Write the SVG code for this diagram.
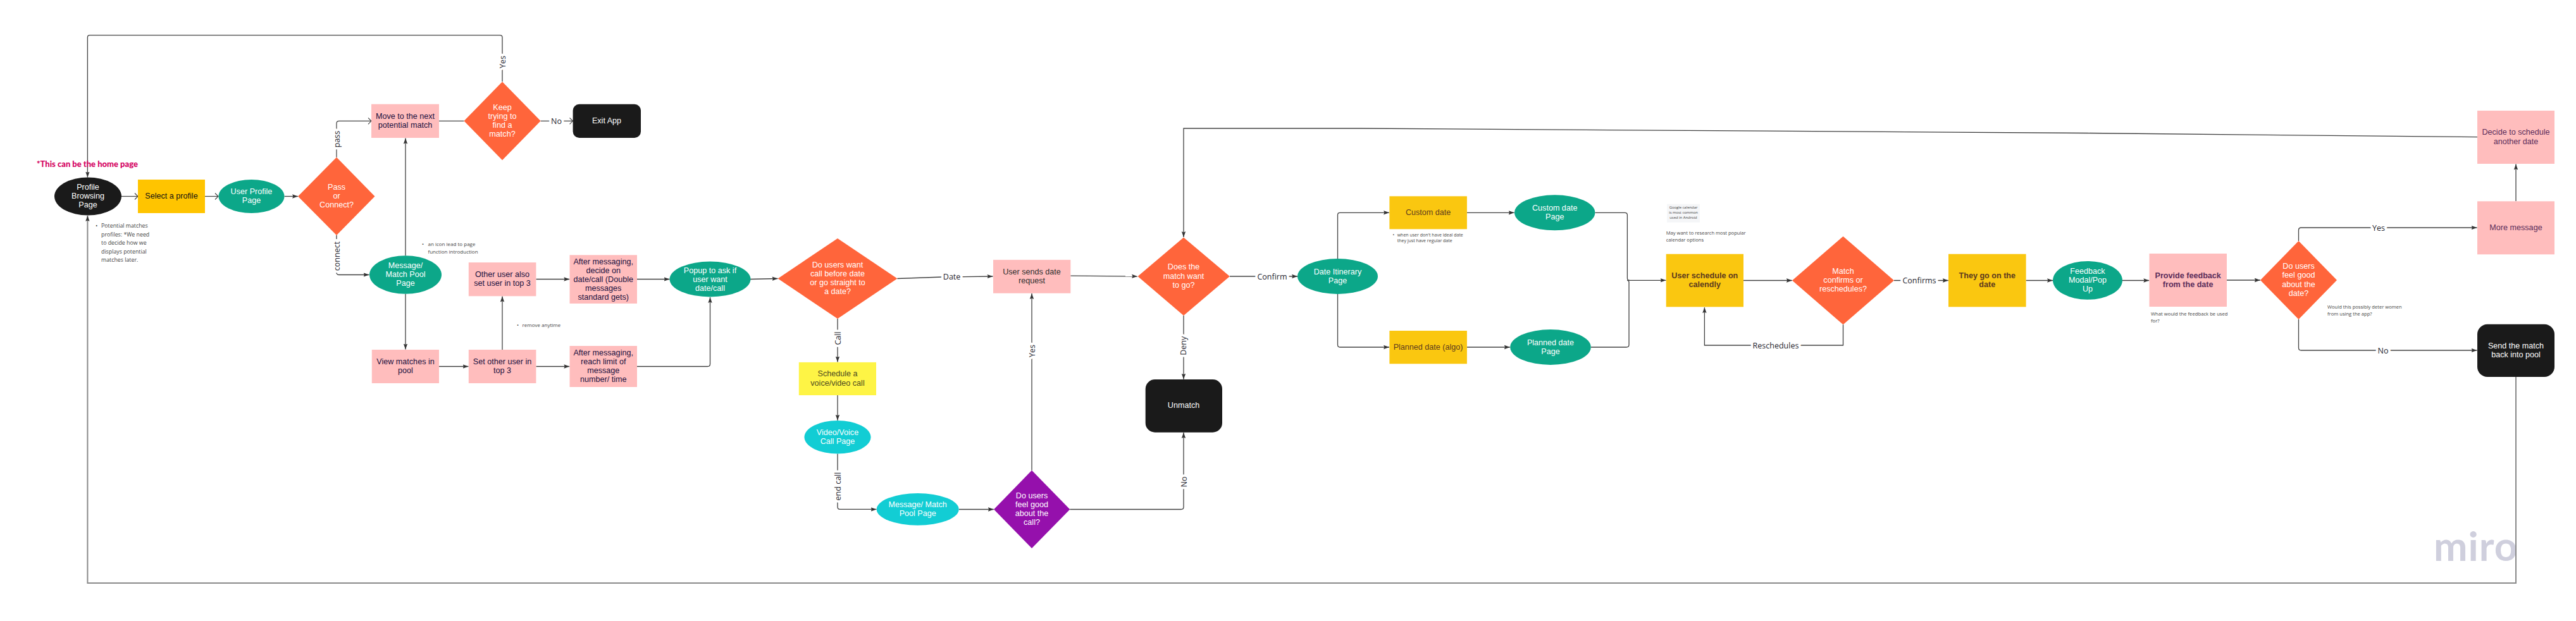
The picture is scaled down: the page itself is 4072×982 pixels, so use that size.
<svg xmlns="http://www.w3.org/2000/svg" width="4072" height="982" viewBox="0 0 4072 982">
<style>
.g{fill:#0CA789}.o{fill:#FF653B}.p{fill:#FFBDBD}.k{fill:#1A1A1A}.y{fill:#FAC710}.c{fill:#12CDD4}
text{font-family:"Liberation Sans",Arial,sans-serif;font-size:12.6px;text-anchor:middle}
.w{fill:#fff}.n{fill:#1a1040}.b{fill:#5c3a1e}.m{fill:#5b2d5b}
.note{font-family:"Open Sans",sans-serif;font-size:8px;fill:#444;text-anchor:start}
.lab{font-family:"Open Sans",sans-serif;font-size:12.5px;fill:#1f1f2f;stroke:#fff;stroke-width:8px;paint-order:stroke}
.l{fill:none;stroke:#414141;stroke-width:1.3;marker-end:url(#a)}
.l2{fill:none;stroke:#414141;stroke-width:1.3}
.op{fill:none;stroke:#414141;stroke-width:1.2;marker-end:url(#v)}
.thick{fill:none;stroke:#8a8a8a;stroke-width:2;marker-end:url(#a)}
</style>
<defs>
<marker id="a" markerUnits="userSpaceOnUse" markerWidth="10" markerHeight="8" refX="9" refY="4" orient="auto"><path d="M0 0.8L9 4L0 7.2L1.5 4Z" fill="#333"/></marker>
<marker id="v" markerUnits="userSpaceOnUse" markerWidth="7" markerHeight="12" refX="6" refY="6" orient="auto"><path d="M1 1L6 6L1 11" fill="none" stroke="#414141" stroke-width="1.1"/></marker>
<filter id="sh" x="-10%" y="-300%" width="120%" height="700%"><feGaussianBlur stdDeviation="1"/></filter>
</defs>
<rect width="4072" height="982" fill="#fff"/>
<text id="watermark" x="3847" y="887" style="font-family:Lato,sans-serif;font-size:64px;font-weight:700;fill:#CFCFDD;text-anchor:start;letter-spacing:1px">miro</text>
<g id="connectors">
<path class="l" d="M794 129V59Q794 55.7 790 55.7H142Q138.4 55.7 138.4 59V280.5"/>
<path class="thick" d="M3977 596V922H138.4V341"/>
<path class="op" d="M192 310.5H218"/>
<path class="op" d="M324 310.5H345"/>
<path class="l" d="M449.6 310.5H471"/>
<path class="op" d="M532 248.7V195Q532 191.3 536 191.3H587"/>
<path class="l2" d="M694 191.3H733.4"/>
<path class="op" d="M854.6 191.3H905.5"/>
<path class="l" d="M532 372V431Q532 434.5 536 434.5H583.5"/>
<path class="l" d="M641 404.3V218.5"/>
<path class="l" d="M641 464.7V552.5"/>
<path class="l" d="M694 579.5H740.5"/>
<path class="l" d="M794 553V468.5"/>
<path class="l" d="M847.4 441.5H900.3"/>
<path class="l" d="M1007 441.5H1058.5"/>
<path class="l" d="M847.4 579.5H900.3"/>
<path class="l" d="M1007 579.5H1118.5Q1122.5 579.5 1122.5 575.5V470"/>
<path class="l" d="M1186 441.5L1229.5 440.5"/>
<path class="l" d="M1418.4 440.5L1490 438L1569.5 437"/>
<path class="l" d="M1692.3 436.2L1798 437"/>
<path class="l" d="M1943.9 437H2051"/>
<path class="l" d="M1324 504V572.5"/>
<path class="l" d="M1324 625V664.8"/>
<path class="l" d="M1324 717.6V801.5Q1324 805.4 1328 805.4H1385.5"/>
<path class="l" d="M1515.8 805.5H1570.8"/>
<path class="l" d="M1631 743.8V464"/>
<path class="l" d="M1691.3 805.5H1867Q1871 805.5 1871 801.5V684"/>
<path class="l" d="M1871 499V599.8"/>
<path class="l" d="M3916 216.7L3300 210.5L2150 203H1871V375"/>
<path class="l" d="M2114.5 409V340Q2114.5 336.3 2118 336.3H2196"/>
<path class="l" d="M2114.5 465V545Q2114.5 549 2118 549H2196"/>
<path class="l" d="M2318.9 336.3H2393.7"/>
<path class="l" d="M2318.9 549H2386.8"/>
<path class="l2" d="M2521.4 336.3H2568.5Q2572.4 336.3 2572.4 340V440Q2572.4 443.3 2576 443.3"/>
<path class="l2" d="M2514.8 549H2571Q2575 549 2575 545V446Q2575 443.3 2572 443.3"/>
<path class="l" d="M2575 443.3H2633.5"/>
<path class="l" d="M2756 443.5H2832.8"/>
<path class="l" d="M2994 443.5H3079.8"/>
<path class="l" d="M2913.5 513.3V546H2694.4V486"/>
<path class="l" d="M3202.6 443.5H3245"/>
<path class="l" d="M3355 443.5H3397.3"/>
<path class="l" d="M3520 443H3572.8"/>
<path class="l" d="M3633.5 381V364Q3633.5 360 3637.5 360H3915.5"/>
<path class="l" d="M3633.5 505V550Q3633.5 554 3637.5 554H3915.5"/>
<path class="l" d="M3977 318V259.5"/>
<text class="lab" transform="rotate(-90 794 98)" x="794" y="102.5">Yes</text>
<text class="lab" x="879.5" y="195.5">No</text>
<text class="lab" transform="rotate(-90 532 220)" x="532" y="224.5">pass</text>
<text class="lab" transform="rotate(-90 532 405)" x="532" y="409.5">connect</text>
<text class="lab" x="1504.6" y="442">Date</text>
<text class="lab" transform="rotate(-90 1324 535)" x="1324" y="539.5">Call</text>
<text class="lab" transform="rotate(-90 1324 769)" x="1324" y="773.5">end call</text>
<text class="lab" transform="rotate(-90 1631 555)" x="1631" y="559.5">Yes</text>
<text class="lab" transform="rotate(-90 1871 546.7)" x="1871" y="551.2">Deny</text>
<text class="lab" transform="rotate(-90 1871 762)" x="1871" y="766.5">No</text>
<text class="lab" x="2011" y="441.5">Confirm</text>
<text class="lab" x="3034" y="447.5">Confirms</text>
<text class="lab" x="2807" y="550.5">Reschedules</text>
<text class="lab" x="3760" y="364.5">Yes</text>
<text class="lab" x="3767" y="558.5">No</text>
</g>
<g id="home-note"><text x="138" y="263.5" style="font-family:Lato,sans-serif;font-weight:900;font-size:13px;fill:#D4005F">*This can be the home page</text></g>
<g id="profile-browsing"><ellipse class="k" cx="139" cy="310.5" rx="53" ry="30"/><text class="w" y="300.4"><tspan x="139">Profile</tspan><tspan x="139" dy="14">Browsing</tspan><tspan x="139" dy="14">Page</tspan></text></g>
<g id="select-profile"><rect x="218" y="284" width="106" height="53" fill="#FFC400"/><text x="271" y="314.4" fill="#111">Select a profile</text></g>
<g id="user-profile"><ellipse class="g" cx="397.5" cy="310.5" rx="52" ry="26.5"/><text class="w" y="306.9"><tspan x="397.5">User Profile</tspan><tspan x="397.5" dy="14">Page</tspan></text></g>
<g id="pass-connect"><path class="o" d="M532 248.7L592.5 310.4L532 372L471 310.4Z"/><text class="w" y="300.4"><tspan x="532">Pass</tspan><tspan x="532" dy="14">or</tspan><tspan x="532" dy="14">Connect?</tspan></text></g>
<g id="move-next"><rect class="p" x="587" y="164.7" width="107" height="53.3"/><text class="n" y="188"><tspan x="640.5">Move to the next</tspan><tspan x="640.5" dy="14">potential match</tspan></text></g>
<g id="keep-trying"><path class="o" d="M794 129.3L854.6 191.3L794 253.3L733.4 191.3Z"/><text class="w" y="174.4"><tspan x="794">Keep</tspan><tspan x="794" dy="14">trying to</tspan><tspan x="794" dy="14">find a</tspan><tspan x="794" dy="14">match?</tspan></text></g>
<g id="exit-app"><rect class="k" x="905.6" y="164.7" width="107.4" height="53.3" rx="10"/><text class="w" x="959" y="195">Exit App</text></g>
<g id="potential-note"><text class="note" style="font-size:8.8px" y="360"><tspan x="151">•</tspan><tspan x="160">Potential matches</tspan><tspan x="160" y="374">profiles: *We need</tspan><tspan x="160" y="387">to decide how we</tspan><tspan x="160" y="401">displays potential</tspan><tspan x="160" y="414">matches later.</tspan></text></g>
<g id="message-pool"><ellipse class="g" cx="641" cy="434.5" rx="57" ry="30.2"/><text class="w" y="424"><tspan x="641">Message/</tspan><tspan x="641" dy="14">Match Pool</tspan><tspan x="641" dy="14">Page</tspan></text></g>
<g id="icon-note"><text class="note" y="389"><tspan x="667">•</tspan><tspan x="676.5">an icon lead to page</tspan><tspan x="676.5" y="401">function introduction</tspan></text></g>
<g id="other-user"><rect class="p" x="740.8" y="415" width="106.6" height="53.3"/><text class="n" y="438"><tspan x="794">Other user also</tspan><tspan x="794" dy="14">set user in top 3</tspan></text></g>
<g id="after-decide"><rect class="p" x="900.5" y="403.3" width="106.5" height="76.7"/><text class="n" y="418.4"><tspan x="953.7">After messaging,</tspan><tspan x="953.7" dy="14">decide on</tspan><tspan x="953.7" dy="14">date/call (Double</tspan><tspan x="953.7" dy="14">messages</tspan><tspan x="953.7" dy="14">standard gets)</tspan></text></g>
<g id="popup"><ellipse class="g" cx="1122.5" cy="441.5" rx="64" ry="28"/><text class="w" y="432.4"><tspan x="1122.5">Popup to ask if</tspan><tspan x="1122.5" dy="14">user want</tspan><tspan x="1122.5" dy="14">date/call</tspan></text></g>
<g id="view-matches"><rect class="p" x="587.8" y="553" width="106.2" height="53"/><text class="n" y="576.4"><tspan x="641">View matches in</tspan><tspan x="641" dy="14">pool</tspan></text></g>
<g id="set-other"><rect class="p" x="740.8" y="553" width="106.6" height="53"/><text class="n" y="576.4"><tspan x="794">Set other user in</tspan><tspan x="794" dy="14">top 3</tspan></text></g>
<g id="remove-note"><text class="note" y="517.3"><tspan x="817">•</tspan><tspan x="825.5">remove anytime</tspan></text></g>
<g id="after-reach"><rect class="p" x="900.5" y="547" width="106.5" height="65"/><text class="n" y="562.4"><tspan x="953.7">After messaging,</tspan><tspan x="953.7" dy="14">reach limit of</tspan><tspan x="953.7" dy="14">message</tspan><tspan x="953.7" dy="14">number/ time</tspan></text></g>
<g id="call-or-date"><path class="o" d="M1324 377L1418.4 440.5L1324 504L1229.6 440.5Z"/><text class="w" y="422.9"><tspan x="1324">Do users want</tspan><tspan x="1324" dy="14.1">call before date</tspan><tspan x="1324" dy="14.1">or go straight to</tspan><tspan x="1324" dy="14.1">a date?</tspan></text></g>
<g id="user-sends"><rect class="p" x="1570" y="410.9" width="122.3" height="52.8"/><text fill="#2f2f2f" y="434.2"><tspan x="1631">User sends date</tspan><tspan x="1631" dy="14.1">request</tspan></text></g>
<g id="match-want"><path class="o" d="M1871 375.4L1943.9 437L1871 499L1798.5 437Z"/><text class="w" y="426"><tspan x="1871">Does the</tspan><tspan x="1871" dy="14.5">match want</tspan><tspan x="1871" dy="14.5">to go?</tspan></text></g>
<g id="schedule-call"><rect x="1262.8" y="572.9" width="122.2" height="52.1" fill="#FEF445"/><text fill="#4d4a20" y="595"><tspan x="1324">Schedule a</tspan><tspan x="1324" dy="15">voice/video call</tspan></text></g>
<g id="video-call"><ellipse class="c" cx="1324" cy="691.3" rx="52.5" ry="26.3"/><text class="w" y="688"><tspan x="1324">Video/Voice</tspan><tspan x="1324" dy="14.1">Call Page</tspan></text></g>
<g id="message-pool-2"><ellipse class="c" cx="1450.7" cy="805.4" rx="65" ry="25.4"/><text class="w" y="802.2"><tspan x="1450.7">Message/ Match</tspan><tspan x="1450.7" dy="14.1">Pool Page</tspan></text></g>
<g id="feel-call"><path fill="#9510AC" d="M1631 743.8L1691.3 805.5L1631 867L1571 805.5Z"/><text class="w" y="788.1"><tspan x="1631">Do users</tspan><tspan x="1631" dy="14.1">feel good</tspan><tspan x="1631" dy="14.1">about the</tspan><tspan x="1631" dy="14.1">call?</tspan></text></g>
<g id="unmatch"><rect class="k" x="1810.7" y="600" width="121.3" height="83.7" rx="15"/><text class="w" x="1871" y="645.4">Unmatch</text></g>
<g id="itinerary"><ellipse class="g" cx="2114.5" cy="437" rx="63.5" ry="28"/><text class="w" y="434.4"><tspan x="2114.5">Date Itinerary</tspan><tspan x="2114.5" dy="14">Page</tspan></text></g>
<g id="custom-date"><rect class="y" x="2196.4" y="310.3" width="122.5" height="52"/><text class="b" x="2257.6" y="340">Custom date</text></g>
<g id="custom-note"><text class="note" style="font-size:7px" y="374"><tspan x="2201.6">•</tspan><tspan x="2208.7">when user don't have ideal date</tspan><tspan x="2208.7" y="383">they just have regular date</tspan></text></g>
<g id="custom-page"><ellipse class="g" cx="2457.7" cy="336.3" rx="63.7" ry="28"/><text class="w" y="333"><tspan x="2457.7">Custom date</tspan><tspan x="2457.7" dy="14">Page</tspan></text></g>
<g id="planned-date"><rect class="y" x="2196.4" y="523" width="122.5" height="52.3"/><text class="b" x="2257.6" y="553.4">Planned date (algo)</text></g>
<g id="planned-page"><ellipse class="g" cx="2451" cy="549" rx="63.8" ry="28"/><text class="w" y="546.4"><tspan x="2451">Planned date</tspan><tspan x="2451" dy="14">Page</tspan></text></g>
<g id="google-sticky"><line x1="2638" y1="352" x2="2684" y2="352" stroke="#555" stroke-width="1.5" filter="url(#sh)"/><rect x="2635" y="322.7" width="52" height="29" fill="#F5F6F8"/><text style="font-family:'Open Sans',sans-serif;font-size:5.9px;fill:#444" y="329.8"><tspan x="2661">Google calendar</tspan><tspan x="2661" dy="8.3">is most common</tspan><tspan x="2661" dy="8.3">used in Android</tspan></text></g>
<g id="calendar-note"><text class="note" style="font-size:7.6px" y="371"><tspan x="2633.7">May want to research most popular</tspan><tspan x="2633.7" y="382">calendar options</tspan></text></g>
<g id="schedule-calendly"><rect class="y" x="2633.7" y="401.7" width="122.3" height="83.6"/><text class="b" font-weight="700" y="440.4"><tspan x="2694.8">User schedule on</tspan><tspan x="2694.8" dy="14">calendly</tspan></text></g>
<g id="match-confirms"><path class="o" d="M2913.5 373.7L2994 443.5L2913.5 513.3L2833 443.5Z"/><text class="w" y="433"><tspan x="2913.5">Match</tspan><tspan x="2913.5" dy="14">confirms or</tspan><tspan x="2913.5" dy="14">reschedules?</tspan></text></g>
<g id="go-date"><rect class="y" x="3080" y="401.7" width="122.6" height="83.6"/><text class="b" font-weight="700" y="440.4"><tspan x="3141.3">They go on the</tspan><tspan x="3141.3" dy="14">date</tspan></text></g>
<g id="feedback-modal"><ellipse class="g" cx="3300" cy="443.3" rx="55" ry="30.4"/><text class="w" y="433"><tspan x="3300">Feedback</tspan><tspan x="3300" dy="14">Modal/Pop</tspan><tspan x="3300" dy="14">Up</tspan></text></g>
<g id="provide-feedback"><rect class="p" x="3397.5" y="401" width="122.5" height="84"/><text class="m" font-weight="700" y="440"><tspan x="3458.7">Provide feedback</tspan><tspan x="3458.7" dy="14">from the date</tspan></text></g>
<g id="feedback-note"><text class="note" style="font-size:7.7px" y="499"><tspan x="3400">What would the feedback be used</tspan><tspan x="3400" y="510">for?</tspan></text></g>
<g id="feel-date"><path class="o" d="M3633.5 381L3694 443L3633.5 505L3573 443Z"/><text class="w" y="425"><tspan x="3633.5">Do users</tspan><tspan x="3633.5" dy="14.3">feel good</tspan><tspan x="3633.5" dy="14.3">about the</tspan><tspan x="3633.5" dy="14.3">date?</tspan></text></g>
<g id="deter-note"><text class="note" style="font-size:7.6px" y="488"><tspan x="3679">Would this possibly deter women</tspan><tspan x="3679" y="499.3">from using the app?</tspan></text></g>
<g id="more-message"><rect class="p" x="3916" y="318.3" width="122" height="84"/><text class="m" x="3977" y="364.4">More message</text></g>
<g id="another-date"><rect class="p" x="3916" y="175" width="122" height="84"/><text class="m" y="213.1"><tspan x="3977">Decide to schedule</tspan><tspan x="3977" dy="15">another date</tspan></text></g>
<g id="send-back"><rect class="k" x="3916" y="512.7" width="122" height="83.3" rx="16"/><text class="w" y="551"><tspan x="3977">Send the match</tspan><tspan x="3977" dy="14.3">back into pool</tspan></text></g>
</svg>
